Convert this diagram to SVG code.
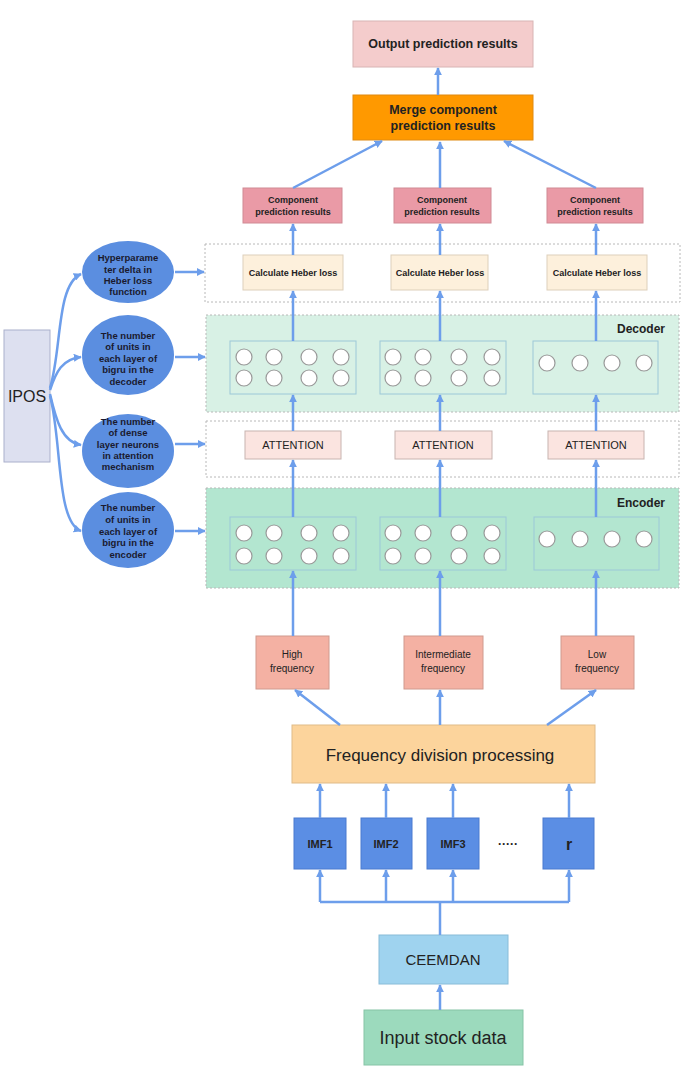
<svg xmlns="http://www.w3.org/2000/svg" width="685" height="1081" viewBox="0 0 685 1081">
<defs>
<marker id="ah" viewBox="0 0 10 10" refX="9" refY="5" markerWidth="3.2" markerHeight="3.2" orient="auto"><path d="M0,0 L10,5 L0,10 z" fill="#6d9eeb"/></marker>
<style>
text{font-family:"Liberation Sans",Arial,sans-serif;text-anchor:middle;fill:#222}
.b{font-weight:bold}
.c{fill:none;stroke:#6d9eeb;stroke-width:2.5;marker-end:url(#ah)}
.dot{stroke:#b8b8b8;stroke-width:1;stroke-dasharray:2,2}
.inner{fill:none;stroke:#9cc8d8;stroke-width:1}
.n{fill:#fff;stroke:#999;stroke-width:1.2}
.ell{fill:#5b8ee0}
.et{font-weight:bold;font-size:9.5px;fill:#1a1a2e}
</style>
</defs>
<rect width="685" height="1081" fill="#fff"/>

<g id="output"><rect x="353" y="21" width="180" height="46" fill="#f4cccc" stroke="#d8b4b4"/><text x="443" y="48" class="b" font-size="12.5">Output prediction results</text></g>
<g id="merge"><rect x="353" y="95" width="180" height="45" fill="#ff9900" stroke="#e08a10"/><text x="443" y="114" class="b" font-size="12.5">Merge component</text><text x="443" y="130" class="b" font-size="12.5">prediction results</text></g>

<g id="comp1"><rect x="243" y="188" width="99" height="35" fill="#ea9aa6" stroke="#d08a94"/><text x="293" y="203" class="b" font-size="9">Component</text><text x="293" y="215" class="b" font-size="9">prediction results</text></g>
<g id="comp2"><rect x="394" y="188" width="97" height="35" fill="#ea9aa6" stroke="#d08a94"/><text x="442" y="203" class="b" font-size="9">Component</text><text x="442" y="215" class="b" font-size="9">prediction results</text></g>
<g id="comp3"><rect x="547" y="188" width="96" height="35" fill="#ea9aa6" stroke="#d08a94"/><text x="595" y="203" class="b" font-size="9">Component</text><text x="595" y="215" class="b" font-size="9">prediction results</text></g>

<g id="lossgroup"><rect x="205" y="244" width="475" height="58" fill="#fff" class="dot"/></g>
<g id="loss1"><rect x="243" y="255" width="100" height="35" fill="#fdf0dc" stroke="#ddd0bb"/><text x="293" y="276" class="b" font-size="9">Calculate Heber loss</text></g>
<g id="loss2"><rect x="391" y="255" width="97" height="35" fill="#fdf0dc" stroke="#ddd0bb"/><text x="440" y="276" class="b" font-size="9">Calculate Heber loss</text></g>
<g id="loss3"><rect x="547" y="255" width="100" height="35" fill="#fdf0dc" stroke="#ddd0bb"/><text x="597" y="276" class="b" font-size="9">Calculate Heber loss</text></g>

<g id="decoder">
<rect x="206" y="315" width="473" height="97" fill="#d8f1e5" class="dot"/>
<text x="665" y="333" class="b" font-size="12" style="text-anchor:end">Decoder</text>
<rect x="230" y="341" width="126" height="53" class="inner"/>
<rect x="380" y="341" width="126" height="53" class="inner"/>
<rect x="533" y="341" width="125" height="53" class="inner"/>
<circle cx="244" cy="357" r="8" class="n"/><circle cx="274" cy="357" r="8" class="n"/><circle cx="309" cy="357" r="8" class="n"/><circle cx="341" cy="357" r="8" class="n"/>
<circle cx="244" cy="378" r="8" class="n"/><circle cx="274" cy="378" r="8" class="n"/><circle cx="309" cy="378" r="8" class="n"/><circle cx="341" cy="378" r="8" class="n"/>
<circle cx="393" cy="357" r="8" class="n"/><circle cx="423" cy="357" r="8" class="n"/><circle cx="459" cy="357" r="8" class="n"/><circle cx="492" cy="357" r="8" class="n"/>
<circle cx="393" cy="378" r="8" class="n"/><circle cx="423" cy="378" r="8" class="n"/><circle cx="459" cy="378" r="8" class="n"/><circle cx="492" cy="378" r="8" class="n"/>
<circle cx="547" cy="363" r="8" class="n"/><circle cx="580" cy="363" r="8" class="n"/><circle cx="612" cy="363" r="8" class="n"/><circle cx="644" cy="363" r="8" class="n"/>
</g>

<g id="attgroup"><rect x="206" y="421" width="473" height="56" fill="#fff" class="dot"/></g>
<g id="att1"><rect x="245" y="431" width="96" height="28" fill="#fbe4e0" stroke="#c8b4b0"/><text x="293" y="449" font-size="11">ATTENTION</text></g>
<g id="att2"><rect x="395" y="431" width="97" height="28" fill="#fbe4e0" stroke="#c8b4b0"/><text x="443" y="449" font-size="11">ATTENTION</text></g>
<g id="att3"><rect x="548" y="431" width="96" height="28" fill="#fbe4e0" stroke="#c8b4b0"/><text x="596" y="449" font-size="11">ATTENTION</text></g>

<g id="encoder">
<rect x="206" y="488" width="473" height="100" fill="#b3e6d0" class="dot"/>
<text x="665" y="507" class="b" font-size="12" style="text-anchor:end">Encoder</text>
<rect x="230" y="517" width="126" height="53" class="inner"/>
<rect x="380" y="517" width="126" height="53" class="inner"/>
<rect x="534" y="517" width="125" height="53" class="inner"/>
<circle cx="244" cy="533" r="8" class="n"/><circle cx="274" cy="533" r="8" class="n"/><circle cx="309" cy="533" r="8" class="n"/><circle cx="341" cy="533" r="8" class="n"/>
<circle cx="244" cy="556" r="8" class="n"/><circle cx="274" cy="556" r="8" class="n"/><circle cx="309" cy="556" r="8" class="n"/><circle cx="341" cy="556" r="8" class="n"/>
<circle cx="393" cy="533" r="8" class="n"/><circle cx="423" cy="533" r="8" class="n"/><circle cx="459" cy="533" r="8" class="n"/><circle cx="492" cy="533" r="8" class="n"/>
<circle cx="393" cy="556" r="8" class="n"/><circle cx="423" cy="556" r="8" class="n"/><circle cx="459" cy="556" r="8" class="n"/><circle cx="492" cy="556" r="8" class="n"/>
<circle cx="547" cy="539" r="8" class="n"/><circle cx="580" cy="539" r="8" class="n"/><circle cx="612" cy="539" r="8" class="n"/><circle cx="644" cy="539" r="8" class="n"/>
</g>

<g id="ipos"><rect x="4" y="330" width="46" height="132" fill="#dde0f0" stroke="#aab0cc"/><text x="27" y="402" font-size="16">IPOS</text></g>
<g id="hp1"><ellipse cx="128" cy="272" rx="46" ry="31" class="ell"/><text class="et"><tspan x="128" y="261">Hyperparame</tspan><tspan x="128" y="273">ter delta in</tspan><tspan x="128" y="284">Heber loss</tspan><tspan x="128" y="295">function</tspan></text></g>
<g id="hp2"><ellipse cx="128" cy="355" rx="46" ry="40" class="ell"/><text class="et"><tspan x="128" y="339">The number</tspan><tspan x="128" y="350">of units in</tspan><tspan x="128" y="362">each layer of</tspan><tspan x="128" y="373">bigru in the</tspan><tspan x="128" y="385">decoder</tspan></text></g>
<g id="hp3"><ellipse cx="128" cy="451" rx="46" ry="37" class="ell"/><text class="et"><tspan x="128" y="425">The number</tspan><tspan x="128" y="436">of dense</tspan><tspan x="128" y="448">layer neurons</tspan><tspan x="128" y="459">in attention</tspan><tspan x="128" y="470">mechanism</tspan></text></g>
<g id="hp4"><ellipse cx="128" cy="530" rx="46" ry="38" class="ell"/><text class="et"><tspan x="128" y="511">The number</tspan><tspan x="128" y="523">of units in</tspan><tspan x="128" y="535">each layer of</tspan><tspan x="128" y="546">bigru in the</tspan><tspan x="128" y="558">encoder</tspan></text></g>

<g id="hf"><rect x="256" y="636" width="73" height="53" fill="#f4b1a3" stroke="#d09a8e"/><text x="292" y="658" font-size="10">High</text><text x="292" y="672" font-size="10">frequency</text></g>
<g id="mf"><rect x="404" y="636" width="79" height="53" fill="#f4b1a3" stroke="#d09a8e"/><text x="443" y="658" font-size="10">Intermediate</text><text x="443" y="672" font-size="10">frequency</text></g>
<g id="lf"><rect x="561" y="636" width="73" height="53" fill="#f4b1a3" stroke="#d09a8e"/><text x="597" y="658" font-size="10">Low</text><text x="597" y="672" font-size="10">frequency</text></g>

<g id="fdp"><rect x="292" y="725" width="303" height="58" fill="#fcd49c" stroke="#e0bb88"/><text x="440" y="761" font-size="17">Frequency division processing</text></g>

<g id="imf1"><rect x="294" y="818" width="52" height="51" fill="#5b8ee4" stroke="#4a7bd0"/><text x="320" y="848" class="b" font-size="11">IMF1</text></g>
<g id="imf2"><rect x="361" y="818" width="51" height="51" fill="#5b8ee4" stroke="#4a7bd0"/><text x="386" y="848" class="b" font-size="11">IMF2</text></g>
<g id="imf3"><rect x="427" y="818" width="52" height="51" fill="#5b8ee4" stroke="#4a7bd0"/><text x="453" y="848" class="b" font-size="11">IMF3</text></g>
<g id="dots"><text x="508" y="848" class="b" font-size="12">·····</text></g>
<g id="r"><rect x="543" y="818" width="51" height="51" fill="#5b8ee4" stroke="#4a7bd0"/><text x="569" y="850" class="b" font-size="16">r</text></g>

<g id="ceemdan"><rect x="379" y="935" width="129" height="49" fill="#9fd3ef" stroke="#88bcd8"/><text x="443" y="965" font-size="15">CEEMDAN</text></g>
<g id="input"><rect x="364" y="1010" width="159" height="55" fill="#9cdabd" stroke="#86c4a6"/><text x="443" y="1044" font-size="18">Input stock data</text></g>

<g id="connectors">
<path class="c" d="M438,95 V68"/>
<path class="c" d="M293,188 L382,141"/>
<path class="c" d="M440,188 V142"/>
<path class="c" d="M596,188 L504,141"/>
<path class="c" d="M293,255 V224"/>
<path class="c" d="M440,255 V224"/>
<path class="c" d="M596,255 V224"/>
<path class="c" d="M293,341 V291"/>
<path class="c" d="M440,341 V291"/>
<path class="c" d="M596,341 V291"/>
<path class="c" d="M293,431 V395"/>
<path class="c" d="M440,431 V395"/>
<path class="c" d="M596,431 V395"/>
<path class="c" d="M293,517 V460"/>
<path class="c" d="M440,517 V460"/>
<path class="c" d="M596,517 V460"/>
<path class="c" d="M293,636 V571"/>
<path class="c" d="M440,636 V571"/>
<path class="c" d="M596,636 V571"/>
<path class="c" d="M340,725 L295,690"/>
<path class="c" d="M440,725 V690"/>
<path class="c" d="M547,725 L596,690"/>
<path class="c" d="M320,818 V784"/>
<path class="c" d="M386,818 V784"/>
<path class="c" d="M453,818 V784"/>
<path class="c" d="M569,818 V784"/>
<path d="M320,902 H569" fill="none" stroke="#6d9eeb" stroke-width="2.5"/>
<path d="M440,935 V902" fill="none" stroke="#6d9eeb" stroke-width="2.5"/>
<path class="c" d="M320,902 V870"/>
<path class="c" d="M386,902 V870"/>
<path class="c" d="M453,902 V870"/>
<path class="c" d="M569,902 V870"/>
<path class="c" d="M440,1010 V985"/>
<path class="c" d="M175,272 H204"/>
<path class="c" d="M175,357 H205"/>
<path class="c" d="M175,444 H205"/>
<path class="c" d="M175,531 H205"/>
<path class="c" d="M50,388 C62,350 56,285 81,274"/>
<path class="c" d="M50,390 C56,372 62,359 81,357"/>
<path class="c" d="M50,394 C56,420 62,442 81,445"/>
<path class="c" d="M50,396 C62,440 56,522 81,531"/>
</g>
</svg>
